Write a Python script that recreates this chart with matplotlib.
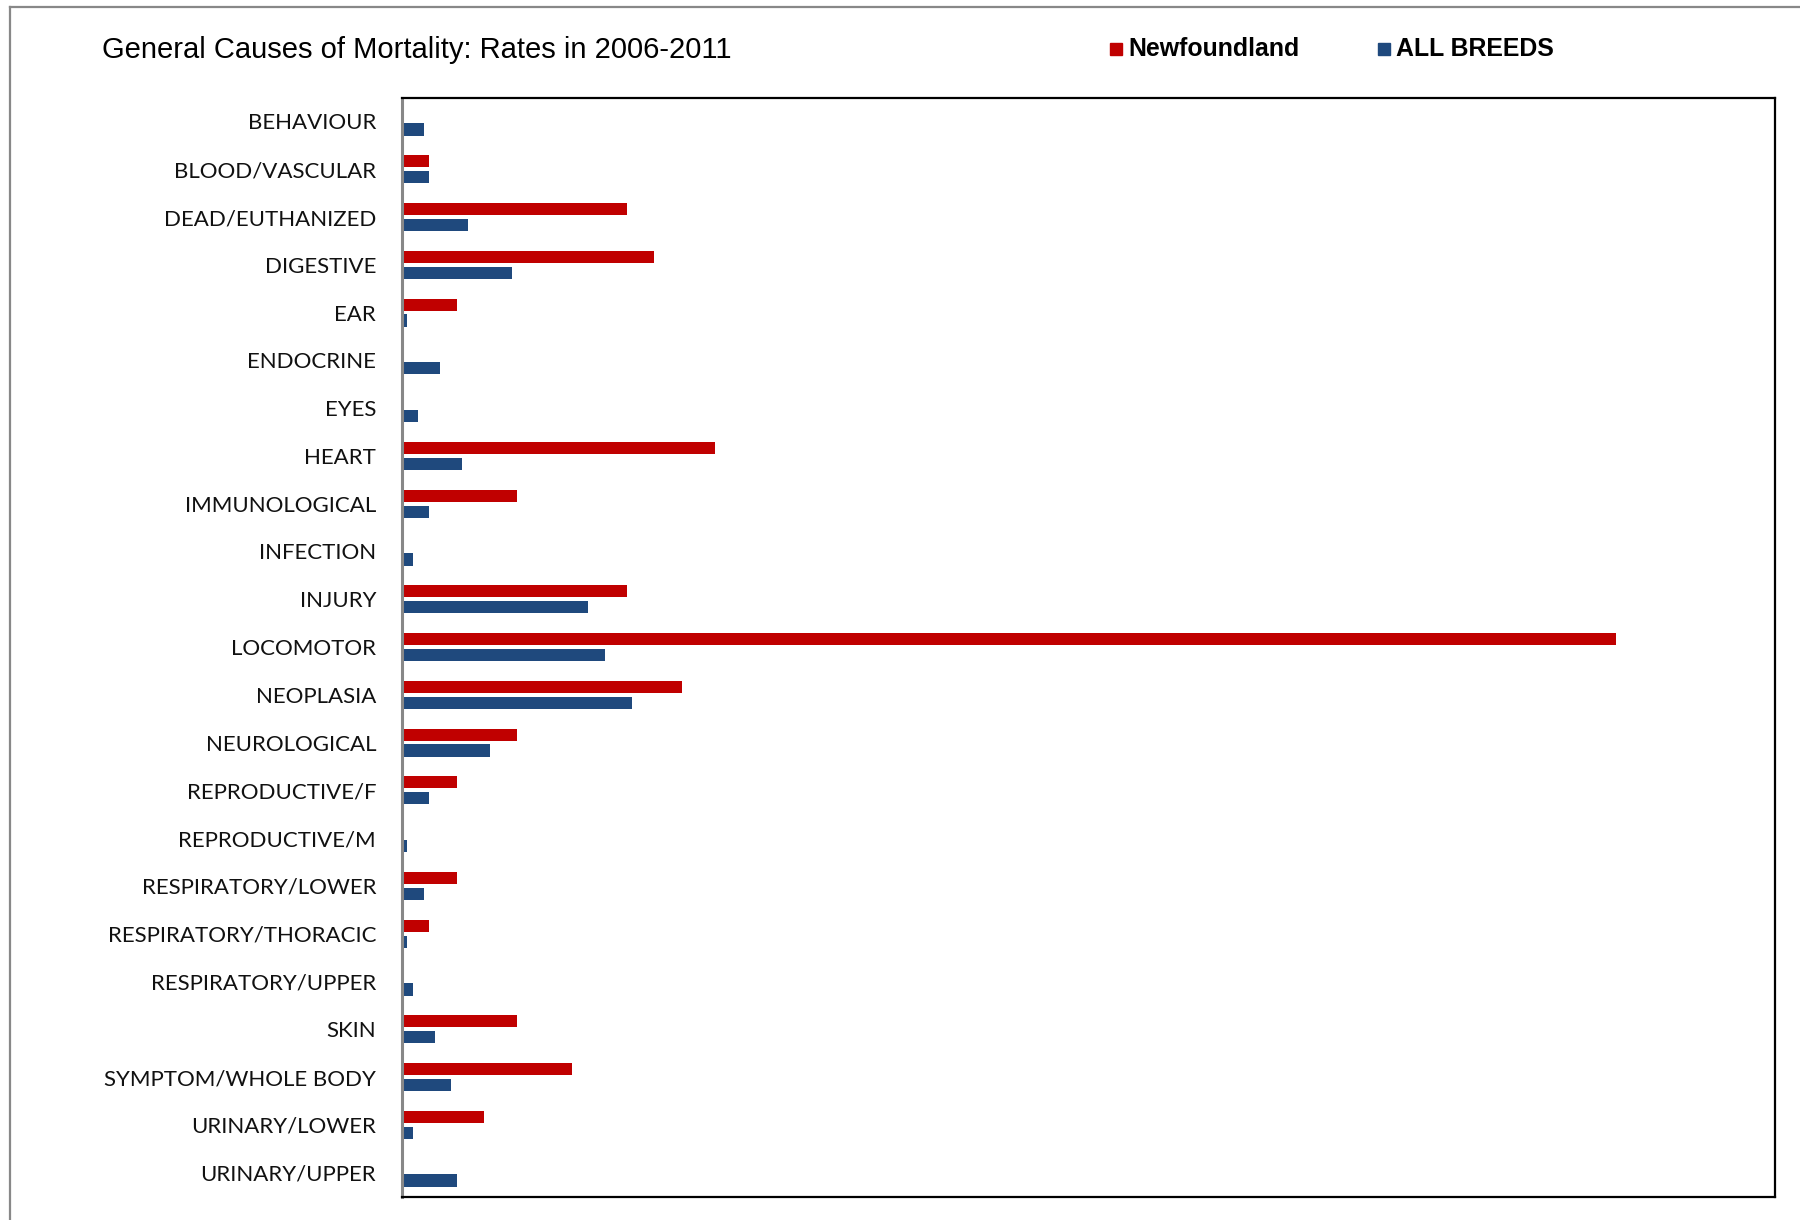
import matplotlib
matplotlib.use("Agg")
import matplotlib.pyplot as plt
import numpy as np
from matplotlib.lines import Line2D
from matplotlib.patches import Rectangle

categories = [
    "BEHAVIOUR", "BLOOD/VASCULAR", "DEAD/EUTHANIZED", "DIGESTIVE", "EAR",
    "ENDOCRINE", "EYES", "HEART", "IMMUNOLOGICAL", "INFECTION", "INJURY",
    "LOCOMOTOR", "NEOPLASIA", "NEUROLOGICAL", "REPRODUCTIVE/F",
    "REPRODUCTIVE/M", "RESPIRATORY/LOWER", "RESPIRATORY/THORACIC",
    "RESPIRATORY/UPPER", "SKIN", "SYMPTOM/WHOLE BODY", "URINARY/LOWER",
    "URINARY/UPPER",
]
newfoundland = [0.0, 0.5, 4.1, 4.6, 1.0, 0.0, 0.0, 5.7, 2.1, 0.0, 4.1,
                22.1, 5.1, 2.1, 1.0, 0.0, 1.0, 0.5, 0.0, 2.1, 3.1, 1.5, 0.0]
all_breeds = [0.4, 0.5, 1.2, 2.0, 0.1, 0.7, 0.3, 1.1, 0.5, 0.2, 3.4,
              3.7, 4.2, 1.6, 0.5, 0.1, 0.4, 0.1, 0.2, 0.6, 0.9, 0.2, 1.0]
series_names = ["Newfoundland", "ALL BREEDS"]
title = "General Causes of Mortality: Rates in 2006-2011"

RED = "#C00000"
BLUE = "#1F497D"

W, H = 1800, 1220
fig = plt.figure(figsize=(W / 100, H / 100), dpi=100)
fig.patch.set_facecolor("white")

ax_left, ax_right = 401.7 / W, 1775.0 / W
ax_top, ax_bottom = 1 - 97.6 / H, 1 - 1196.5 / H
ax = fig.add_axes([ax_left, ax_bottom, ax_right - ax_left, ax_top - ax_bottom])

y = np.arange(len(categories))
h = 0.255
off = 0.167
ax.barh(y - off, newfoundland, height=h, color=RED, edgecolor="none")
ax.barh(y + off, all_breeds, height=h, color=BLUE, edgecolor="none")

ax.set_xlim(0, 25)
ax.set_ylim(len(categories) - 0.5, -0.5)
ax.set_xticks([])
ax.set_yticks(y)
ax.set_yticklabels(categories, family=["Lato", "DejaVu Sans"], fontsize=16, color="#111111")
ax.tick_params(axis="y", length=0, pad=18.5)

for s in ["top", "right", "bottom"]:
    ax.spines[s].set_color("black")
    ax.spines[s].set_linewidth(1.6)
ax.spines["left"].set_color("#888888")
ax.spines["left"].set_linewidth(2.2)

# title
fig.text(102 / W, 1 - 50 / H, title, family=["Liberation Sans", "DejaVu Sans"],
         fontsize=21, va="center", ha="left", color="black")

# legend
leg_y = 1 - 48.5 / H
sq = 12
for x0, xt, col, name in [(1110, 1128, RED, series_names[0]),
                          (1378, 1396, BLUE, series_names[1])]:
    fig.add_artist(Rectangle((x0 / W, leg_y - (sq / 2) / H), sq / W, sq / H,
                             transform=fig.transFigure, color=col))
    fig.text(xt / W, leg_y, name, family=["Liberation Sans", "DejaVu Sans"],
             fontsize=17.9, fontweight="bold", va="center", ha="left", color="black")

# outer frame (partially visible)
fig.add_artist(Line2D([10 / W, 1.0], [1 - 7 / H, 1 - 7 / H], transform=fig.transFigure,
                      color="#888888", lw=1.6))
fig.add_artist(Line2D([10 / W, 10 / W], [0.0, 1 - 7 / H], transform=fig.transFigure,
                      color="#888888", lw=1.6))

fig.savefig("out.png", dpi=100, facecolor="white")
